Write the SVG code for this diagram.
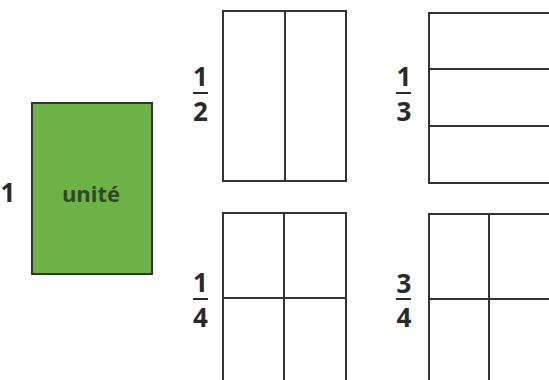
<svg xmlns="http://www.w3.org/2000/svg" width="549" height="380" viewBox="0 0 549 380">
<style>
.box{fill:#fff;stroke:#333;stroke-width:2}
.div{stroke:#333;stroke-width:2}
.num{font-family:"Open Sans","Liberation Sans",sans-serif;font-weight:bold;font-size:26px;fill:#2a2a2a;text-anchor:middle}
.bar{stroke:#2a2a2a;stroke-width:2}
</style>
<rect width="549" height="380" fill="#fff"/>
<g id="unit">
<text class="num" x="8" y="202">1</text>
<rect x="32" y="103" width="120" height="171" fill="#6db246" stroke="#333" stroke-width="2"/>
<text x="91" y="202" font-family="'Open Sans','Liberation Sans',sans-serif" font-weight="bold" font-size="22" fill="#2d4a25" text-anchor="middle">unité</text>
</g>
<g id="half">
<text class="num" x="200.5" y="86">1</text>
<line class="bar" x1="193" y1="93" x2="208" y2="93"/>
<text class="num" x="200.5" y="121">2</text>
<rect class="box" x="223" y="11" width="123" height="170"/>
<line class="div" x1="285" y1="11" x2="285" y2="181"/>
</g>
<g id="third">
<text class="num" x="404" y="86">1</text>
<line class="bar" x1="396" y1="93" x2="411" y2="93"/>
<text class="num" x="404" y="121">3</text>
<rect class="box" x="429" y="13" width="125" height="170"/>
<line class="div" x1="429" y1="69" x2="549" y2="69"/>
<line class="div" x1="429" y1="126" x2="549" y2="126"/>
</g>
<g id="quarter">
<text class="num" x="200.5" y="292">1</text>
<line class="bar" x1="193" y1="299" x2="208" y2="299"/>
<text class="num" x="200.5" y="327">4</text>
<rect class="box" x="223" y="213" width="123" height="180"/>
<line class="div" x1="284" y1="213" x2="284" y2="380"/>
<line class="div" x1="223" y1="298" x2="346" y2="298"/>
</g>
<g id="threequarters">
<text class="num" x="404" y="293">3</text>
<line class="bar" x1="396" y1="299" x2="411" y2="299"/>
<text class="num" x="404" y="327">4</text>
<rect class="box" x="429" y="214" width="125" height="180"/>
<line class="div" x1="489" y1="214" x2="489" y2="380"/>
<line class="div" x1="429" y1="299" x2="549" y2="299"/>
</g>
<g id="connectors"/>
</svg>
